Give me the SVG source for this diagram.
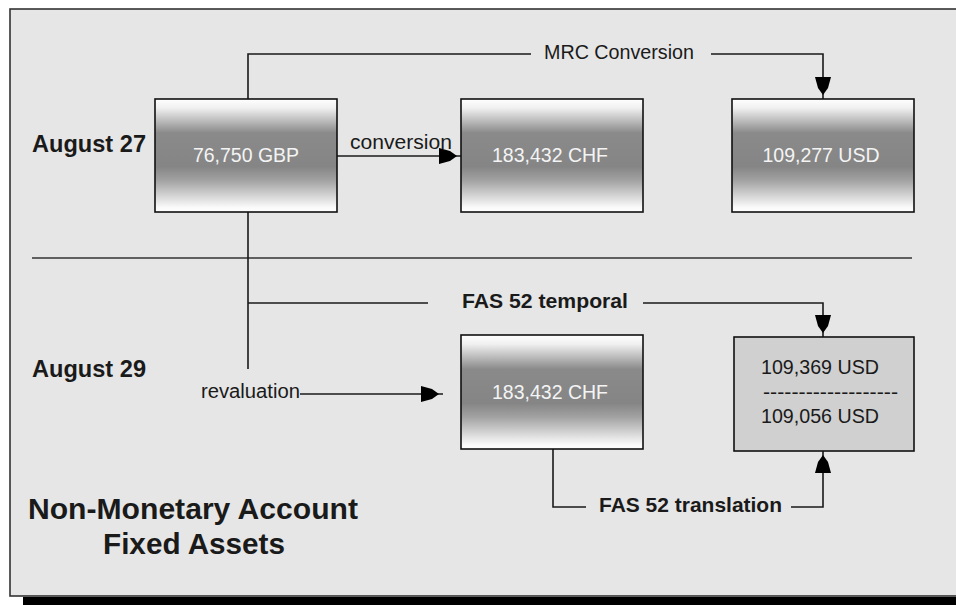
<svg xmlns="http://www.w3.org/2000/svg" width="956" height="605" viewBox="0 0 956 605">
  <style>
    .lbl { font-family: "Liberation Sans", Arial, sans-serif; fill: #1a1a1a; }
    .bold { font-weight: bold; }
    .boxtxt { font-family: "Liberation Sans", Arial, sans-serif; font-size: 19.5px; fill: #f4f4f4; text-anchor: middle; }
    .node { fill: url(#grad); stroke: #111; stroke-width: 1.6; }
    .conn { fill: none; stroke: #1a1a1a; stroke-width: 1.6; }
    .arr { marker-end: url(#head); }
  </style>
  <defs>
    <linearGradient id="grad" x1="0" y1="0" x2="0" y2="1">
      <stop offset="0" stop-color="#ffffff"/>
      <stop offset="0.08" stop-color="#f0f0f0"/>
      <stop offset="0.3" stop-color="#8a8a8a"/>
      <stop offset="0.6" stop-color="#858585"/>
      <stop offset="0.72" stop-color="#a2a2a2"/>
      <stop offset="0.96" stop-color="#fafafa"/>
      <stop offset="1" stop-color="#ffffff"/>
    </linearGradient>
    <marker id="head" viewBox="-24 -9 24 18" refX="0" refY="0" markerWidth="24" markerHeight="18" markerUnits="userSpaceOnUse" orient="auto">
      <path d="M-4,0 L-11,-5 L-22,-8 L-22,8 L-11,5 Z" fill="#000"/>
    </marker>
  </defs>

  <rect x="0" y="0" width="956" height="605" fill="#ffffff"/>
  <rect id="shadow" x="23" y="597" width="940" height="10" fill="#000"/>
  <rect id="frame" x="10" y="9" width="960" height="587" fill="#e6e6e6" stroke="#333" stroke-width="1.6"/>
  <line id="divider" x1="32" y1="258" x2="912" y2="258" stroke="#333" stroke-width="1.6"/>

  <g id="connectors">
    <path class="conn" d="M248,99 V54 H531"/>
    <path class="conn arr" d="M711,54 H823 V99"/>
    <path class="conn arr" d="M337,156 H461"/>
    <path class="conn" d="M248,212 V369"/>
    <path class="conn" d="M248,303 H428"/>
    <path class="conn arr" d="M643,303 H823 V337"/>
    <path class="conn arr" d="M300,394 H443"/>
    <path class="conn" d="M553,449 V507 H586"/>
    <path class="conn arr" d="M791,507 H823 V451"/>
  </g>

  <g id="labels">
    <text class="lbl bold" x="32" y="152" font-size="24" textLength="114" lengthAdjust="spacingAndGlyphs">August 27</text>
    <text class="lbl bold" x="32" y="377" font-size="24" textLength="114" lengthAdjust="spacingAndGlyphs">August 29</text>
    <text class="lbl" x="544" y="59" font-size="19.5" textLength="150" lengthAdjust="spacingAndGlyphs">MRC Conversion</text>
    <text class="lbl" x="350" y="149" font-size="19.5" textLength="102" lengthAdjust="spacingAndGlyphs">conversion</text>
    <text class="lbl bold" x="462" y="308" font-size="20.5" textLength="166" lengthAdjust="spacingAndGlyphs">FAS 52 temporal</text>
    <text class="lbl" x="201" y="398" font-size="19.5" textLength="99" lengthAdjust="spacingAndGlyphs">revaluation</text>
    <text class="lbl bold" x="599" y="512" font-size="20.5" textLength="183" lengthAdjust="spacingAndGlyphs">FAS 52 translation</text>
    <text class="lbl bold" x="28" y="519" font-size="29" textLength="330" lengthAdjust="spacingAndGlyphs">Non-Monetary Account</text>
    <text class="lbl bold" x="103" y="554" font-size="29" textLength="182" lengthAdjust="spacingAndGlyphs">Fixed Assets</text>
  </g>

  <g id="gbp-aug27">
    <rect class="node" x="155" y="99" width="182" height="113"/>
    <text class="boxtxt" x="246" y="162">76,750 GBP</text>
  </g>
  <g id="chf-aug27">
    <rect class="node" x="461" y="99" width="182" height="113"/>
    <text class="boxtxt" x="550" y="162">183,432 CHF</text>
  </g>
  <g id="usd-aug27">
    <rect class="node" x="732" y="99" width="182" height="113"/>
    <text class="boxtxt" x="821" y="162">109,277 USD</text>
  </g>
  <g id="chf-aug29">
    <rect class="node" x="461" y="335" width="182" height="114"/>
    <text class="boxtxt" x="550" y="399">183,432 CHF</text>
  </g>
  <g id="usd-aug29">
    <rect x="734" y="337" width="180" height="114" fill="#d0d0d0" stroke="#111" stroke-width="1.6"/>
    <text class="lbl" x="761" y="374" font-size="19.5" textLength="118" lengthAdjust="spacingAndGlyphs">109,369 USD</text>
    <text class="lbl" x="763" y="399" font-size="19.5" textLength="135" lengthAdjust="spacingAndGlyphs">-------------------</text>
    <text class="lbl" x="761" y="423" font-size="19.5" textLength="118" lengthAdjust="spacingAndGlyphs">109,056 USD</text>
  </g>
</svg>
